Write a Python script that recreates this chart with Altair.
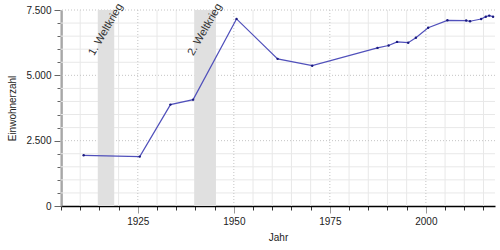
import altair as alt
import pandas as pd

years = [1910.9, 1925.5, 1933.5, 1939.4, 1950.7, 1961.4, 1970.4, 1987.4, 1990.3,
         1992.5, 1995.4, 1997.4, 2000.6, 2005.6, 2010.5, 2011.5, 2014.4, 2015.6,
         2016.5, 2017.5]
values = [1940, 1890, 3880, 4070, 7160, 5630, 5370, 6050, 6140,
          6280, 6250, 6440, 6820, 7105, 7095, 7070, 7155, 7245,
          7285, 7245]

war_labels = ["1. Weltkrieg", "2. Weltkrieg"]
war_start = [1914.57, 1939.67]
war_end = [1918.86, 1945.35]

x_ticks = list(range(1905, 2019, 5))
x_major = [1925, 1950, 1975, 2000]
y_ticks = list(range(0, 7501, 500))
y_major = [2500, 5000, 7500]

df = pd.DataFrame({"Jahr": years, "Einwohner": values})
wars = pd.DataFrame({"label": war_labels, "start": war_start, "end": war_end})
wars["mid"] = (wars["start"] + wars["end"]) / 2
xminor_df = pd.DataFrame({"v": [v for v in x_ticks if v not in x_major]})
xmajor_df = pd.DataFrame({"v": x_major})
yminor_df = pd.DataFrame({"v": [v for v in y_ticks if v not in y_major and v != 0]})
ymajor_df = pd.DataFrame({"v": y_major})

FONT = "Liberation Sans"

xscale = alt.Scale(domain=[1905, 2018], nice=False, zero=False)
yscale = alt.Scale(domain=[0, 7500], nice=False)

xmajor = "datum.value % 25 === 0"
ymajor = "datum.value % 2500 === 0"

xaxis = alt.Axis(
    values=x_ticks,
    title="Jahr",
    labelExpr="datum.value % 25 === 0 ? datum.label : ''",
    format="d",
    labelFont=FONT, labelFontSize=10, labelColor="#222",
    titleFont=FONT, titleFontSize=10, titleFontWeight="normal", titleColor="#222",
    titlePadding=6,
    domainColor="#000", domainWidth=1.5,
    tickColor={"condition": {"test": xmajor, "value": "#999"}, "value": "#333"},
    tickSize={"condition": {"test": xmajor, "value": 7}, "value": 4},
    tickWidth=1,
    labelPadding=3,
    grid=False,
    labelOverlap=False,
    labelFlush=False,
)

yaxis = alt.Axis(
    values=y_ticks,
    title="Einwohnerzahl",
    labelExpr="datum.value % 2500 === 0 ? replace(format(datum.value, ','), ',', '.') : ''",
    labelFont=FONT, labelFontSize=10, labelColor="#222",
    titleFont=FONT, titleFontSize=10, titleFontWeight="normal", titleColor="#222",
    titlePadding=8,
    domainColor="#666", domainWidth=2,
    tickColor="#666",
    tickSize={"condition": {"test": ymajor, "value": 7}, "value": 4},
    tickWidth=1,
    labelPadding=3,
    grid=False,
    labelOverlap=False,
    labelFlush=False,
)

gx_minor = alt.Chart(xminor_df).mark_rule(color="#e8e8e8", strokeWidth=1).encode(
    x=alt.X("v:Q", scale=xscale, axis=xaxis),
)
gx_major = alt.Chart(xmajor_df).mark_rule(color="#c4c4c4", strokeWidth=1, strokeDash=[1, 2]).encode(
    x=alt.X("v:Q", scale=xscale, axis=xaxis),
)
gy_minor = alt.Chart(yminor_df).mark_rule(color="#e8e8e8", strokeWidth=1).encode(
    y=alt.Y("v:Q", scale=yscale, axis=yaxis),
)
gy_major = alt.Chart(ymajor_df).mark_rule(color="#c4c4c4", strokeWidth=1, strokeDash=[1, 2]).encode(
    y=alt.Y("v:Q", scale=yscale, axis=yaxis),
)

bands = alt.Chart(wars).mark_rect(color="#e0e0e0").encode(
    x=alt.X("start:Q", scale=xscale, axis=xaxis),
    x2="end:Q",
    y=alt.datum(0, scale=yscale, axis=yaxis, type="quantitative"),
    y2=alt.datum(7500),
)

labels = alt.Chart(wars).mark_text(
    angle=300, align="center", baseline="middle", font=FONT, fontSize=11, color="#333"
).encode(
    x=alt.X("mid:Q", scale=xscale, axis=xaxis),
    y=alt.datum(6750, scale=yscale, axis=yaxis, type="quantitative"),
    text="label:N",
)

base = alt.Chart(df)

line = base.mark_line(color="#5050bb", strokeWidth=1.2).encode(
    x=alt.X("Jahr:Q", scale=xscale, axis=xaxis),
    y=alt.Y("Einwohner:Q", scale=yscale, axis=yaxis),
)

pts = base.mark_point(filled=True, color="#1a1a80", size=6, opacity=1).encode(
    x=alt.X("Jahr:Q", scale=xscale, axis=xaxis),
    y=alt.Y("Einwohner:Q", scale=yscale, axis=yaxis),
)

chart = alt.layer(gx_minor, gy_minor, gx_major, gy_major, bands, labels, line, pts).properties(
    width=434, height=196,
    autosize=alt.AutoSizeParams(type="none"),
    padding={"left": 61, "top": 10, "right": 5, "bottom": 44},
).configure_view(stroke=None)

chart.save("out.html", embed_options={"renderer": "svg", "actions": False})
